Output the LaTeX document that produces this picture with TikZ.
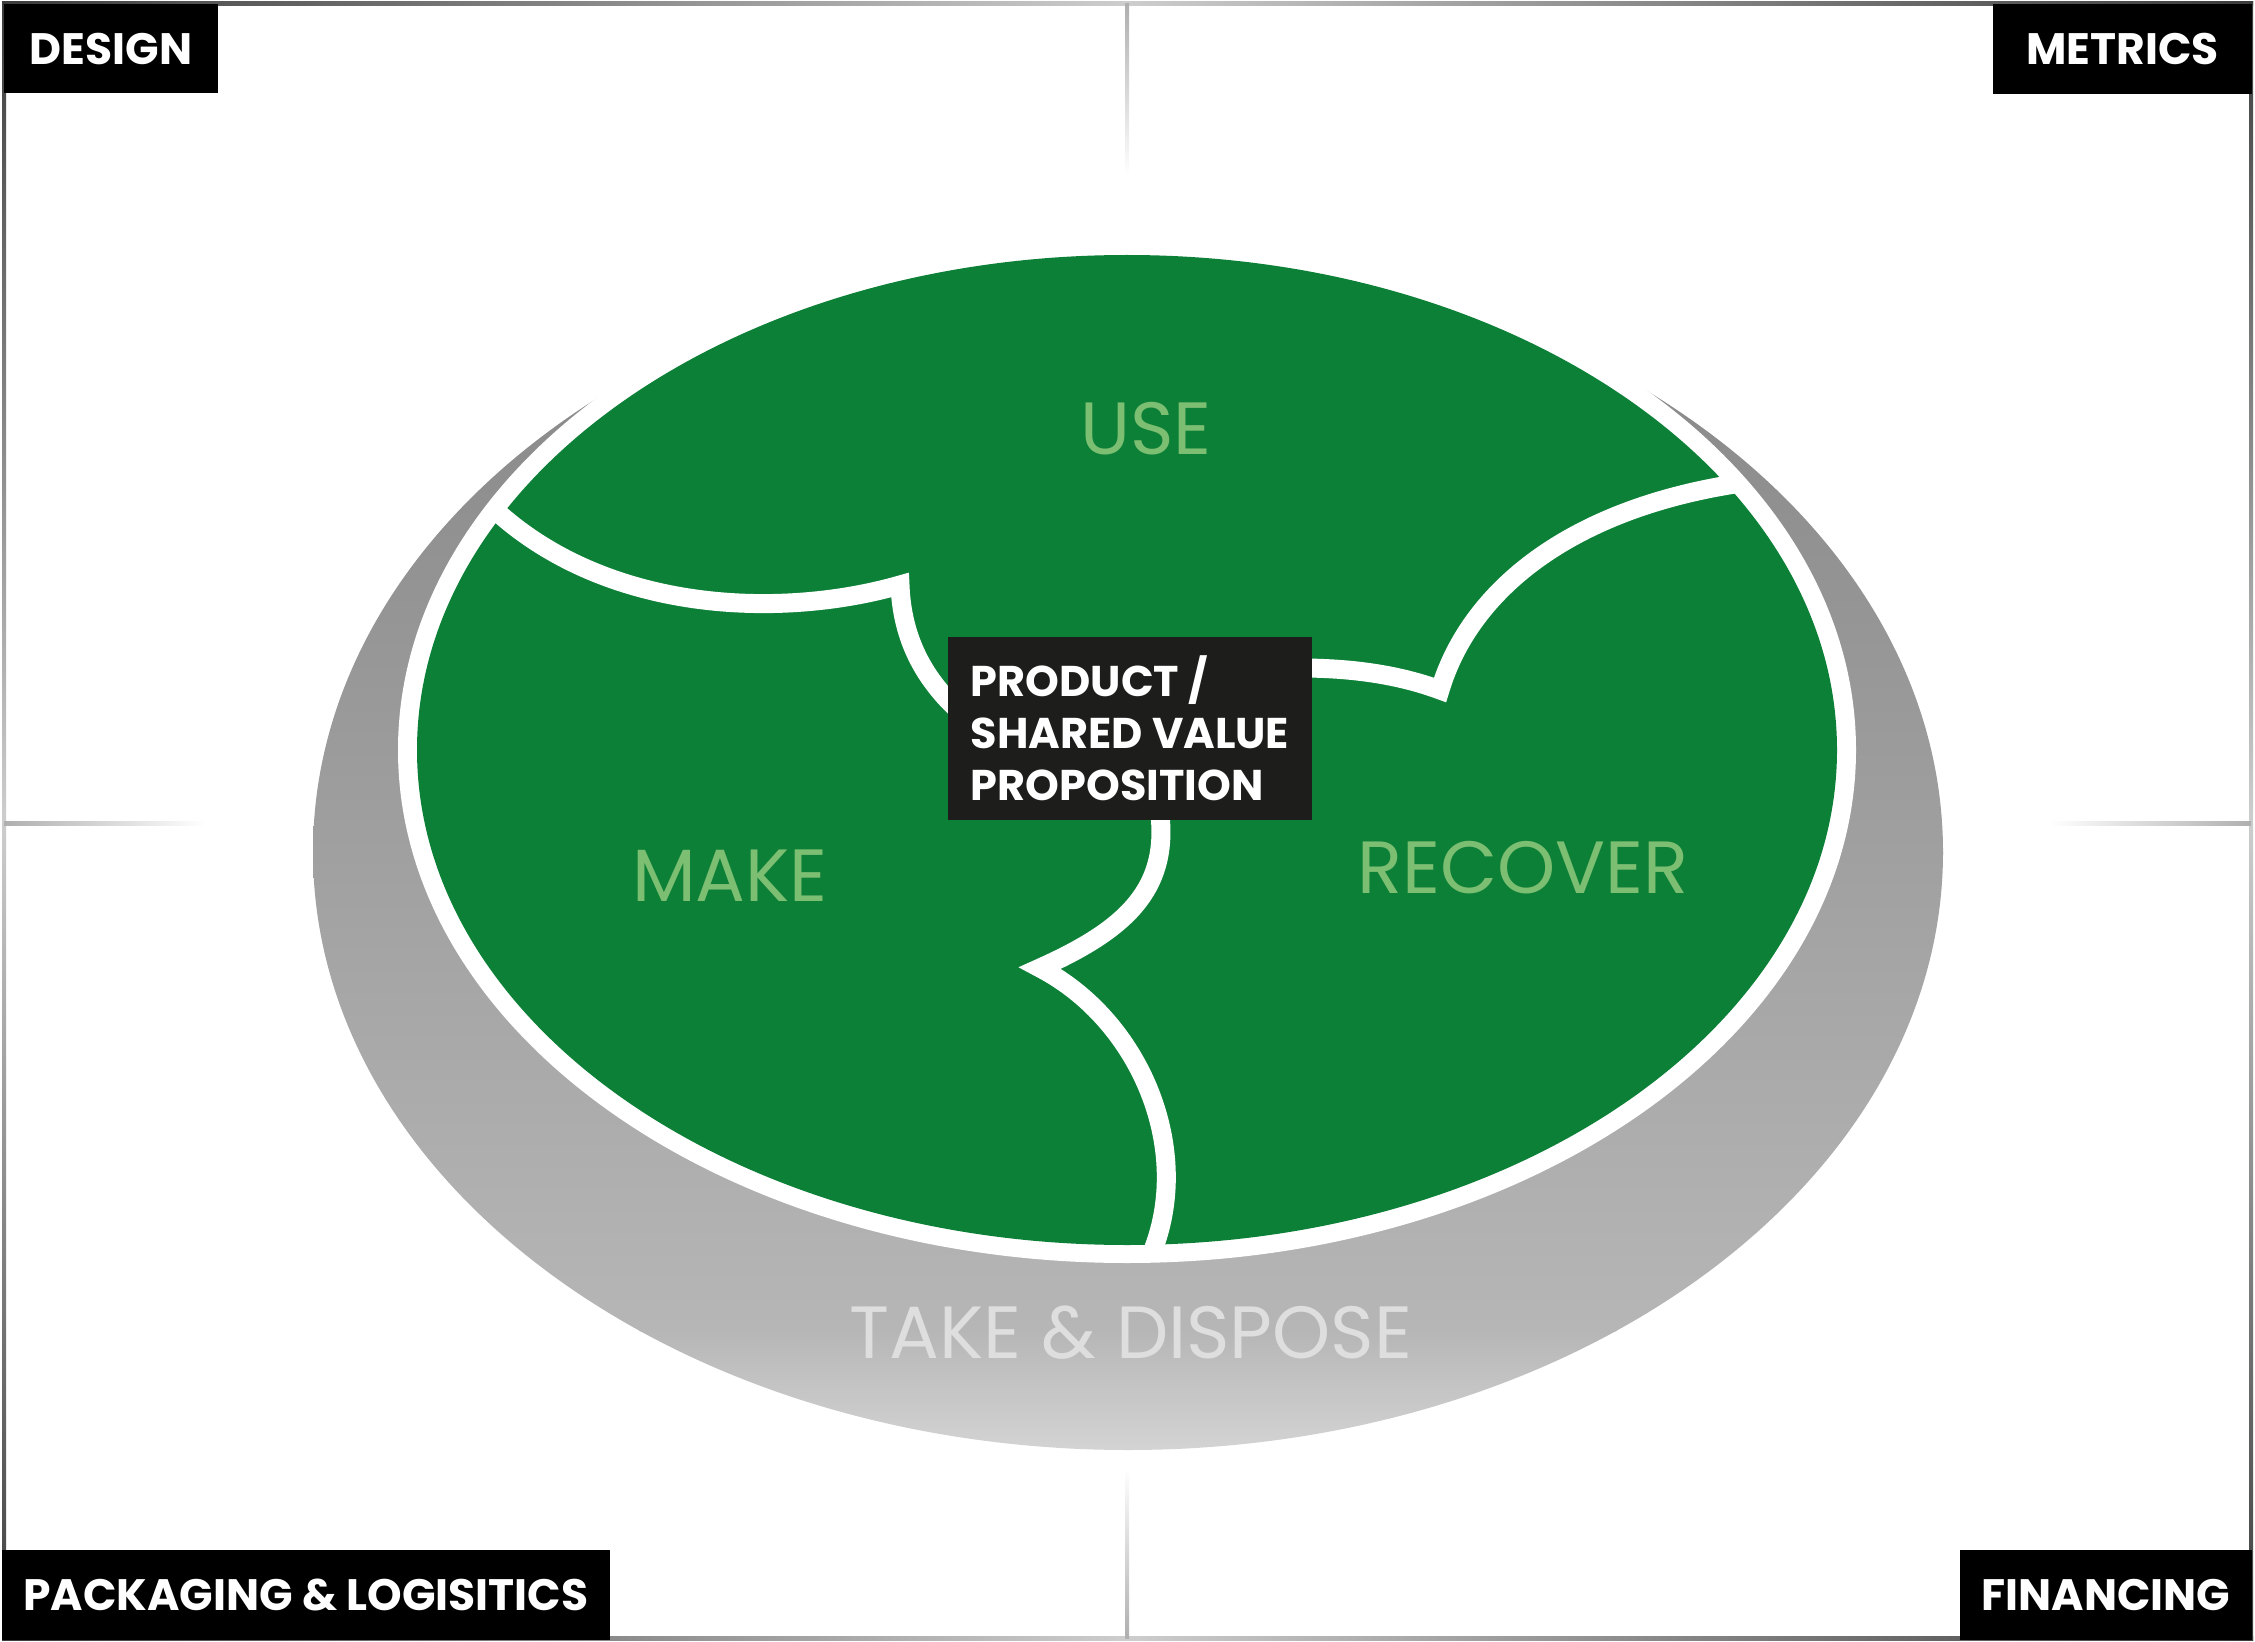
\documentclass[tikz,border=0pt]{standalone}
\usepackage{fontspec}
\setmainfont{Poppins}
\definecolor{grn}{RGB}{13,128,55}
\definecolor{lgrn}{RGB}{124,190,114}
\definecolor{boxblk}{RGB}{29,29,27}
\definecolor{frdark}{RGB}{60,60,60}
\definecolor{frlight}{RGB}{205,205,205}
\definecolor{divgray}{RGB}{175,175,175}
\definecolor{shtop}{RGB}{132,132,132}
\definecolor{shmid}{RGB}{160,160,160}
\definecolor{shlow}{RGB}{182,182,182}
\definecolor{shbot}{RGB}{214,214,214}
\definecolor{tdgray}{RGB}{222,222,222}
\begin{document}
\begin{tikzpicture}[x=0.5pt,y=-0.5pt,
  corner/.style={fill=black, text=white, inner sep=0pt,
    font=\fontsize{22}{22}\selectfont\bfseries},
  prodbox/.style={fill=boxblk, text=white, inner sep=0pt,
    minimum width=182pt, minimum height=91.5pt, align=left,
    font=\fontsize{21.5}{26}\selectfont\bfseries},
  stage/.style={text=lgrn, inner sep=0pt, font=\fontsize{37}{37}\selectfont},
  divider/.style={draw=white, line width=9.5pt, line join=miter}]
\useasboundingbox (0,0) rectangle (2255,1642);
% frame
\shade[left color=frdark, right color=frdark, middle color=frlight] (2,2) rectangle (2253,6);
\shade[left color=frdark, right color=frdark, middle color=frlight] (2,1636) rectangle (2253,1640);
\shade[top color=frdark, bottom color=frdark, middle color=frlight] (2,2) rectangle (6,1640);
\shade[top color=frdark, bottom color=frdark, middle color=frlight] (2249,2) rectangle (2253,1640);
% quadrant ticks
\shade[top color=divgray, bottom color=white] (1125,4) rectangle (1129,175);
\shade[top color=white, bottom color=divgray] (1125,1468) rectangle (1129,1638);
\shade[left color=divgray, right color=white] (4,821) rectangle (205,825);
\shade[left color=white, right color=divgray] (2050,821) rectangle (2251,825);
% shadow disc
\begin{scope}
  \clip (1128,852) ellipse [x radius=815, y radius=598];
  \shade[top color=shtop, bottom color=shmid] (300,240) rectangle (1960,853);
  \shade[top color=shmid, bottom color=shlow] (300,852) rectangle (1960,1331);
  \shade[top color=shlow, bottom color=shbot] (300,1330) rectangle (1960,1460);
\end{scope}
% white rim and green disc
\fill[white] (1127,750) ellipse [x radius=729, y radius=513];
\fill[grn] (1127,750) ellipse [x radius=710, y radius=495];
% dividers
\coordinate (lcusp) at (900,585);
\coordinate (rcusp) at (1440,690);
\coordinate (bcusp) at (1040,968);
\draw[divider] (495,510) .. controls (610,615) and (785,618) .. (lcusp)
  .. controls (902,640) and (925,680) .. (960,712);
\draw[divider] (1300,668) .. controls (1360,668) and (1405,677) .. (rcusp)
  .. controls (1470,590) and (1570,510) .. (1735,484);
\draw[divider] (1160,815) .. controls (1168,890) and (1125,930) .. (bcusp)
  .. controls (1140,1020) and (1195,1150) .. (1151,1255);
% central box
\node[prodbox] (pv) at (1130,728.5) {PRODUCT /\\SHARED VALUE\\PROPOSITION};
% stage labels
\node[stage] (use) at (1146,429) {USE};
\node[stage] (make) at (730,876) {MAKE};
\node[stage] (recover) at (1523,868) {RECOVER};
\node[stage, text=tdgray] (take) at (1131,1333) {TAKE \& DISPOSE};
% corner labels
\node[corner, minimum width=107pt, minimum height=44.5pt] (design) at (111,48.5) {DESIGN};
\node[corner, minimum width=129.5pt, minimum height=45pt] (metrics) at (2122.5,49) {METRICS};
\node[corner, minimum width=304pt, minimum height=45pt] (pack) at (306,1595) {PACKAGING \& LOGISITICS};
\node[corner, minimum width=146pt, minimum height=45pt] (fin) at (2106,1595) {FINANCING};
\end{tikzpicture}
\end{document}
